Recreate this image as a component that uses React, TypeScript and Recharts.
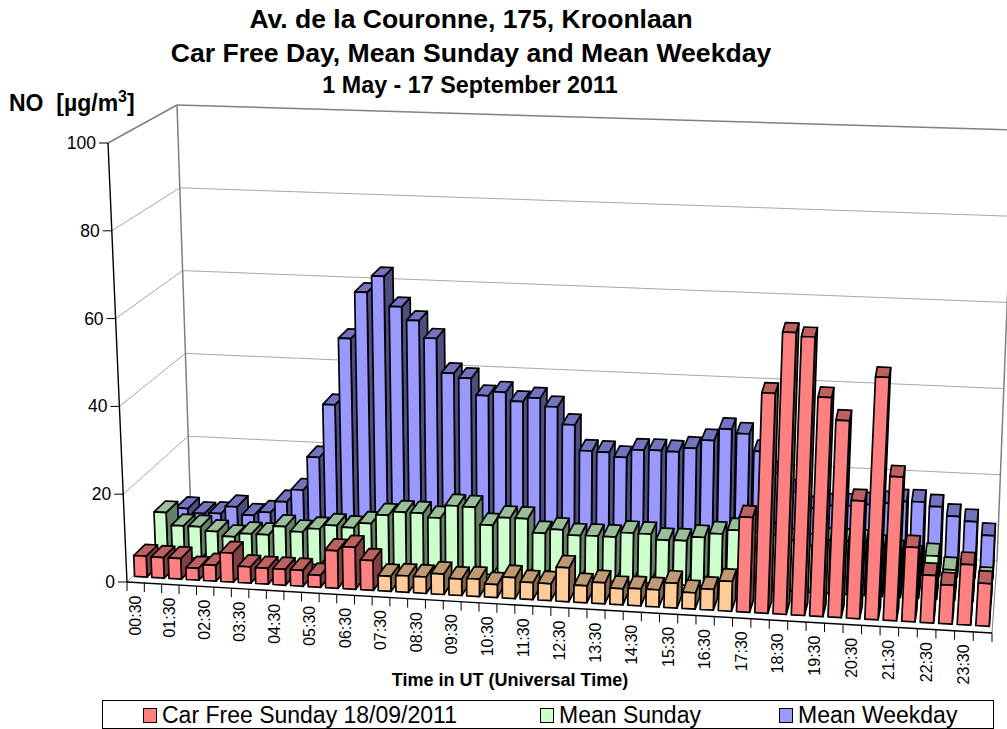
import React from 'react';
import { BarChart, Bar, XAxis, YAxis, Legend, Customized } from 'recharts';

const times = [
  '00:30', '01:00', '01:30', '02:00', '02:30', '03:00', '03:30', '04:00', '04:30', '05:00', '05:30', '06:00',
  '06:30', '07:00', '07:30', '08:00', '08:30', '09:00', '09:30', '10:00', '10:30', '11:00', '11:30', '12:00',
  '12:30', '13:00', '13:30', '14:00', '14:30', '15:00', '15:30', '16:00', '16:30', '17:00', '17:30', '18:00',
  '18:30', '19:00', '19:30', '20:00', '20:30', '21:00', '21:30', '22:00', '22:30', '23:00', '23:30', '24:00',
];
const carFreeSunday = [
  4.8, 4.7, 4.7, 2.7, 3.6, 6.6, 3.7, 3.6, 3.6, 3.6, 2.7, 8.5,
  9.5, 6.7, 3.4, 3.7, 3.7, 4.6, 3.7, 3.9, 2.9, 4.7, 3.8, 3.8,
  7.6, 3.8, 4.7, 3.6, 3.8, 3.8, 5.5, 3.6, 4.6, 6.6, 21, 48.7,
  62.3, 61.5, 48.3, 43.4, 25.9, 53.3, 31.6, 16.3, 10.4, 8.5, 13.2, 9.3,
];
const meanSunday = [
  10.2, 7.3, 7.3, 6.4, 5.4, 6.3, 6.3, 8.4, 7.4, 8.3, 9.3, 9,
  10.2, 12.3, 13.2, 13.2, 12.3, 15.3, 15.2, 11.3, 13.2, 13.2, 10.1, 11.1,
  10, 10.1, 10.1, 11.2, 11.2, 10, 10.1, 11.1, 12.1, 13.1, 13, 12.5,
  11.5, 10.5, 12, 12, 12, 11, 10, 9, 9.7, 6.8, 6, 5,
];
const meanWeekday = [
  6.4, 5.4, 5.6, 7.4, 5.6, 6.5, 9.2, 12.2, 20.1, 32.7, 48.5, 59.6,
  63.5, 56.5, 53.4, 49.4, 41.4, 40.4, 36.5, 37.5, 35.5, 36.5, 34.6, 30.6,
  24.7, 24.6, 23.6, 25.5, 25.6, 25.5, 26.5, 28.5, 31.3, 30.4, 26.5, 21.7,
  17.6, 14, 14.8, 15, 15.5, 16, 16.6, 16.7, 15.8, 13.8, 12.8, 9.8,
];
const valueTicks = [0, 20, 40, 60, 80, 100];

const data = times.map((name, i) => ({
  name,
  carFree: carFreeSunday[i],
  sunday: meanSunday[i],
  weekday: meanWeekday[i],
}));

const WIDTH = 1007;
const HEIGHT = 729;
const LEFT = 127;
const PLOT_W = 865;
const FONT = '"Liberation Sans", Arial, sans-serif';

// corners of the 3D box the chart stands in
const FL0 = [127, 582];
const FL100 = [108, 143];
const FR0 = [992, 633];
const FR100 = [1020, 173];
const BL0 = [191, 519];
const BL100 = [177, 105];
const BR0 = [997, 561];
const BR100 = [1014, 130];

const lerp = (a: number[], b: number[], t: number) => [a[0] + (b[0] - a[0]) * t, a[1] + (b[1] - a[1]) * t];

// u: along the time axis 0-1, d: depth 0-1, v: value 0-100
const project = (u: number, d: number, v: number) => {
  const w = u - 0.04 * u * (1 - u);
  const base = lerp(lerp(FL0, FR0, w), lerp(BL0, BR0, w), d);
  const top = lerp(lerp(FL100, FR100, w), lerp(BL100, BR100, w), d);
  return lerp(base, top, v / 100);
};

const pts = (list: number[][]) => list.map((p) => `${p[0].toFixed(1)},${p[1].toFixed(1)}`).join(' ');

const red = { front: '#FF8080', top: '#BF6060', side: '#804040' };
const green = { front: '#CCFFCC', top: '#99BF99', side: '#668066' };
const blue = { front: '#9999FF', top: '#7373BF', side: '#4D4D80' };
const orange = { front: '#FFCC99', top: '#BF9973', side: '#80664D' };

const BAR_DEPTH = 0.18;
const BAND_SHIFT = 0.06 / 48;

const makeBox = (depth: number, colors: typeof red, altFrom = -1, altTo = -1) => (props: any) => {
  const { x, width, height, background, index } = props;
  const c = index >= altFrom && index <= altTo ? orange : colors;
  const u0 = (x - LEFT) / PLOT_W - BAND_SHIFT;
  const u1 = (x + width - LEFT) / PLOT_W - BAND_SHIFT;
  const v = (height / background.height) * 100;
  const d0 = depth;
  const d1 = depth + BAR_DEPTH;
  const line = { stroke: '#000', strokeWidth: 1.7, strokeLinejoin: 'round' as const };
  return (
    <g>
      <polygon points={pts([project(u1, d0, 0), project(u1, d1, 0), project(u1, d1, v), project(u1, d0, v)])} fill={c.side} {...line} />
      <polygon points={pts([project(u0, d0, v), project(u1, d0, v), project(u1, d1, v), project(u0, d1, v)])} fill={c.top} {...line} />
      <polygon points={pts([project(u0, d0, 0), project(u1, d0, 0), project(u1, d0, v), project(u0, d0, v)])} fill={c.front} {...line} />
    </g>
  );
};

const Segment = ({ a, b, stroke = '#A6A6A6', width = 1 }: any) => (
  <line x1={a[0]} y1={a[1]} x2={b[0]} y2={b[1]} stroke={stroke} strokeWidth={width} />
);

const Backdrop = () => (
  <g>
    {valueTicks.map((v) => (
      <g key={v}>
        <Segment a={project(0, 0, v)} b={project(0, 1, v)} stroke={v === 100 ? '#808080' : '#A6A6A6'} width={v === 100 ? 1.5 : 1} />
        <Segment a={project(0, 1, v)} b={project(1, 1, v)} stroke={v === 100 ? '#808080' : '#A6A6A6'} width={v === 100 ? 1.5 : 1} />
      </g>
    ))}
    <Segment a={project(0, 1, 0)} b={project(0, 1, 100)} stroke="#808080" width={1.5} />
    <Segment a={project(1, 1, 0)} b={project(1, 1, 100)} stroke="#808080" width={1.5} />
    <Segment a={project(1, 0, 0)} b={project(1, 1, 0)} stroke="#808080" />
    <g fontFamily={FONT} fontWeight="bold" fill="#000" textAnchor="middle">
      <text x={471} y={28} fontSize={26.5}>Av. de la Couronne, 175, Kroonlaan</text>
      <text x={471} y={62} fontSize={26.6}>Car Free Day, Mean Sunday and Mean Weekday</text>
      <text x={470} y={93} fontSize={23.3}>1 May - 17 September 2011</text>
      <text x={510} y={686} fontSize={18}>Time in UT (Universal Time)</text>
    </g>
    <text x={9} y={111} fontFamily={FONT} fontWeight="bold" fontSize={23} xmlSpace="preserve">
      NO  [µg/m<tspan dy={-9} fontSize={16}>3</tspan><tspan dy={9}>]</tspan>
    </text>
    <Segment a={project(0, 0, 0)} b={project(0, 0, 100)} stroke="#000" width={1.4} />
    <Segment a={project(0, 0, 0)} b={project(1, 0, 0)} stroke="#000" width={1.4} />
  </g>
);

const TimeTick = (props: any) => {
  const { payload, index } = props;
  const step = 1 / 48;
  const u = (payload.coordinate - LEFT) / PLOT_W;
  const start = project(u - step / 2, 0, 0);
  const end = project(u + step / 2, 0, 0);
  const mid = project(u, 0, 0);
  return (
    <g>
      <line x1={start[0]} y1={start[1]} x2={start[0]} y2={start[1] + 9} stroke="#000" strokeWidth={1} />
      {index === times.length - 1 && <line x1={end[0]} y1={end[1]} x2={end[0]} y2={end[1] + 9} stroke="#000" strokeWidth={1} />}
      {index % 2 === 0 && (
        <text
          x={mid[0] + 5}
          y={mid[1] + 13}
          transform={`rotate(-90 ${mid[0] + 5} ${mid[1] + 13})`}
          textAnchor="end"
          fontFamily={FONT}
          fontSize={16}
          fill="#000"
        >
          {payload.value}
        </text>
      )}
    </g>
  );
};

const ValueTick = ({ payload }: any) => {
  const p = project(0, 0, payload.value);
  return (
    <g>
      <line x1={p[0] - 9} y1={p[1]} x2={p[0]} y2={p[1]} stroke="#000" strokeWidth={1} />
      <text x={p[0] - 12} y={p[1] + 6} textAnchor="end" fontFamily={FONT} fontSize={17.5} fill="#000">
        {payload.value}
      </text>
    </g>
  );
};

const legendItems = [
  { label: 'Car Free Sunday 18/09/2011', color: red.front, x: 40 },
  { label: 'Mean Sunday', color: green.front, x: 437 },
  { label: 'Mean Weekday', color: blue.front, x: 676 },
];

const LegendBox = () => (
  <div style={{ position: 'relative', width: 890, height: 27, border: '1px solid #000', fontFamily: FONT, fontSize: 23 }}>
    {legendItems.map((item) => (
      <div key={item.label} style={{ position: 'absolute', left: item.x, top: 0, height: 27, whiteSpace: 'nowrap', lineHeight: '29px' }}>
        <span style={{ position: 'absolute', left: 0, top: 7, width: 12, height: 13, background: item.color, border: '1px solid #000' }} />
        <span style={{ position: 'absolute', left: 19, top: 0 }}>{item.label}</span>
      </div>
    ))}
  </div>
);

export default function App() {
  return (
    <div style={{ position: 'absolute', left: 0, top: 0, width: WIDTH, height: HEIGHT, overflow: 'hidden', background: '#fff' }}>
      <BarChart
        width={WIDTH}
        height={HEIGHT}
        data={data}
        margin={{ top: 143, right: 15, bottom: 146, left: LEFT - 1 }}
        barSize={13}
        barGap={0}
      >
        <Customized component={Backdrop} />
        <XAxis xAxisId="weekday" dataKey="name" hide />
        <XAxis xAxisId="sunday" dataKey="name" hide />
        <XAxis
          xAxisId="carFree"
          dataKey="name"
          height={1}
          interval={0}
          axisLine={false}
          tickLine={false}
          tick={<TimeTick />}
        />
        <YAxis width={1} domain={[0, 100]} ticks={valueTicks} axisLine={false} tickLine={false} tick={<ValueTick />} />
        <Legend content={<LegendBox />} wrapperStyle={{ position: 'absolute', left: 102, top: 700, width: 892, height: 29 }} />
        <Bar xAxisId="weekday" dataKey="weekday" name="Mean Weekday" fill={blue.front} isAnimationActive={false} shape={makeBox(0.75, blue)} />
        <Bar xAxisId="sunday" dataKey="sunday" name="Mean Sunday" fill={green.front} isAnimationActive={false} shape={makeBox(0.42, green)} />
        <Bar xAxisId="carFree" dataKey="carFree" name="Car Free Sunday 18/09/2011" fill={red.front} isAnimationActive={false} shape={makeBox(0.09, red, 14, 33)} />
      </BarChart>
    </div>
  );
}
